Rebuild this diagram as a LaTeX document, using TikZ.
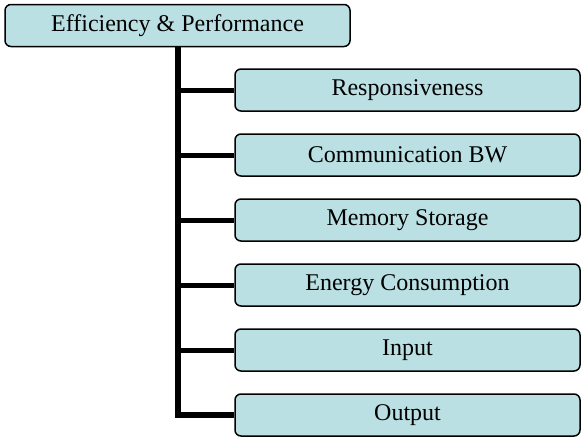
\documentclass[tikz,border=0pt]{standalone}
\usepackage{fontspec}
\setmainfont{Liberation Serif}

\definecolor{boxfill}{RGB}{187,224,227}
\tikzset{
  topic/.style={draw, line width=1.5pt, rounded corners=6pt, fill=boxfill,
    minimum width=345pt, minimum height=42pt, inner sep=0pt,
    font=\fontsize{24}{28}\selectfont},
  branch/.style={line width=5pt},
}

\begin{document}
\begin{tikzpicture}[x=1pt, y=1pt]
      \useasboundingbox (0,0) rectangle (583,-439);
      \node[topic] (root) at (177.5,-25.5) {Efficiency \& Performance};
      \foreach \name/\txt [count=\i] in {resp/Responsiveness, comm/Communication BW,
          mem/Memory Storage, energy/Energy Consumption, in/Input, out/Output} {
        \node[topic] (\name) at (407.5,-90-65*\i+65) {\txt};
      }
      \foreach \name in {resp,comm,mem,energy,in} {
        \draw[branch] (root.south |- \name.west) -- (\name.west);
      }
      \draw[branch, line width=6pt] (root.south) |- (out.west);
\end{tikzpicture}
\end{document}
